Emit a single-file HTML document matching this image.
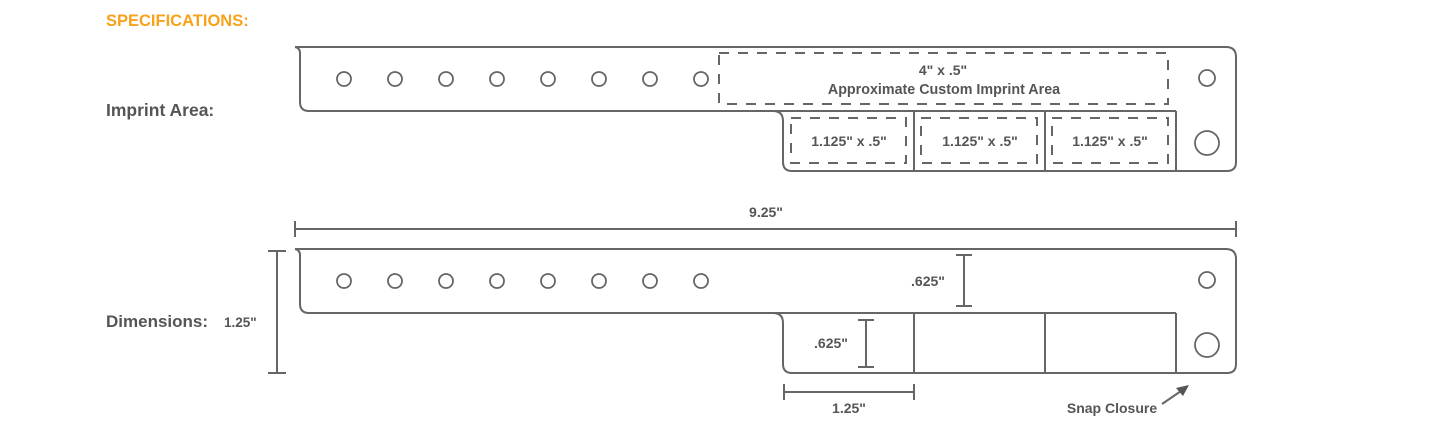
<!DOCTYPE html>
<html><head><meta charset="utf-8"><style>
html,body{margin:0;padding:0;background:#fff;width:1432px;height:424px;overflow:hidden}
svg{display:block}
text{font-family:"Liberation Sans",sans-serif;font-weight:bold;fill:#555}
</style></head><body>
<svg width="1432" height="424" viewBox="0 0 1432 424" xmlns="http://www.w3.org/2000/svg">
<defs>
<g id="band" fill="none" stroke="#666" stroke-width="2">
<path d="M295,47 L1226,47 Q1236,47 1236,57 L1236,162 Q1236,171 1227,171 L792,171 Q783,171 783,162 L783,121 Q783,111 773,111 L309,111 Q300,111 300,102 L300,53 Q300,48 295,47"/>
<line x1="773" y1="111" x2="1176" y2="111"/>
<line x1="914" y1="111" x2="914" y2="171"/>
<line x1="1045" y1="111" x2="1045" y2="171"/>
<line x1="1176" y1="111" x2="1176" y2="171"/>
<g stroke-width="1.8">
<circle cx="344" cy="79" r="7"/><circle cx="395" cy="79" r="7"/><circle cx="446" cy="79" r="7"/><circle cx="497" cy="79" r="7"/>
<circle cx="548" cy="79" r="7"/><circle cx="599" cy="79" r="7"/><circle cx="650" cy="79" r="7"/><circle cx="701" cy="79" r="7"/>
<circle cx="1207" cy="78" r="8"/><circle cx="1207" cy="143" r="12"/>
</g>
</g>
</defs>
<text x="106" y="26" style="fill:#f7a21b;font-size:16.5px">SPECIFICATIONS:</text>
<text x="106" y="116" style="font-size:17.5px">Imprint Area:</text>
<text x="106" y="327" style="font-size:17px">Dimensions:</text>
<text x="224" y="327" style="font-size:13.5px">1.25"</text>

<use href="#band"/>
<g fill="none" stroke="#666" stroke-width="2" stroke-dasharray="10 9">
<rect x="719" y="53" width="449" height="51"/>
<rect x="791" y="118" width="115" height="45"/>
<rect x="921" y="118" width="116" height="45"/>
<rect x="1052" y="118" width="116" height="45"/>
</g>
<text x="943" y="75" text-anchor="middle" style="font-size:14px">4" x .5"</text>
<text x="944" y="94" text-anchor="middle" style="font-size:14.3px">Approximate Custom Imprint Area</text>
<text x="849" y="146" text-anchor="middle" style="font-size:14px">1.125" x .5"</text>
<text x="980" y="146" text-anchor="middle" style="font-size:14px">1.125" x .5"</text>
<text x="1110" y="146" text-anchor="middle" style="font-size:14px">1.125" x .5"</text>

<use href="#band" transform="translate(0,202)"/>
<g fill="none" stroke="#666" stroke-width="2">
<line x1="295" y1="229" x2="1236" y2="229"/><line x1="295" y1="221" x2="295" y2="237"/><line x1="1236" y1="221" x2="1236" y2="237"/>
<line x1="277" y1="251" x2="277" y2="373"/><line x1="268" y1="251" x2="286" y2="251"/><line x1="268" y1="373" x2="286" y2="373"/>
<line x1="964" y1="255" x2="964" y2="306"/><line x1="956" y1="255" x2="972" y2="255"/><line x1="956" y1="306" x2="972" y2="306"/>
<line x1="866" y1="320" x2="866" y2="367"/><line x1="858" y1="320" x2="874" y2="320"/><line x1="858" y1="367" x2="874" y2="367"/>
<line x1="784" y1="392" x2="914" y2="392"/><line x1="784" y1="384" x2="784" y2="400"/><line x1="914" y1="384" x2="914" y2="400"/>
<line x1="1162" y1="404" x2="1184" y2="389"/>
</g>
<path d="M1189,385 L1176,388 L1183,396 Z" fill="#555"/>
<text x="766" y="217" text-anchor="middle" style="font-size:14px">9.25"</text>
<text x="928" y="286" text-anchor="middle" style="font-size:14px">.625"</text>
<text x="831" y="348" text-anchor="middle" style="font-size:14px">.625"</text>
<text x="849" y="413" text-anchor="middle" style="font-size:14px">1.25"</text>
<text x="1112" y="413" text-anchor="middle" style="font-size:14px">Snap Closure</text>
</svg>
</body></html>
